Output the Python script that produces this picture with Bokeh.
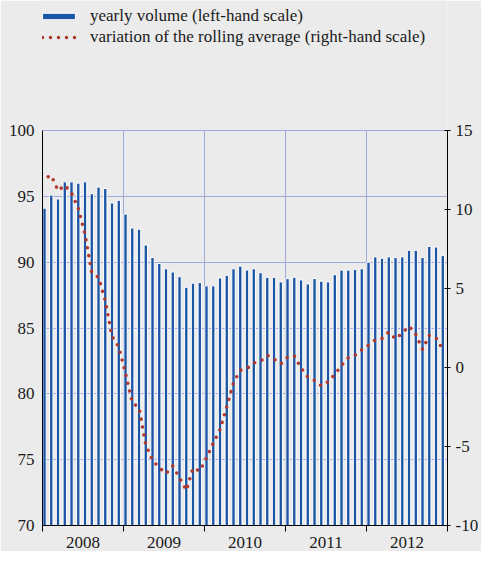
from bokeh.plotting import figure
from bokeh.models import Range1d, LinearAxis, FixedTicker, Legend, LegendItem
from bokeh.embed import file_html
from bokeh.resources import INLINE

# ---- data -------------------------------------------------------------
years = ["2008", "2009", "2010", "2011", "2012"]
months = list(range(60))  # Jan 2008 .. Dec 2012

volume = [
    94.1, 95.1, 94.8, 96.1, 96.1, 96.0, 96.1, 95.2, 95.7, 95.6, 94.5, 94.7,
    93.65, 92.6, 92.5, 91.3, 90.35, 89.9, 89.5, 89.25, 88.9, 88.1, 88.4, 88.45,
    88.2, 88.2, 88.8, 89.0, 89.5, 89.7, 89.4, 89.5, 89.2, 88.85, 88.85, 88.5,
    88.75, 88.85, 88.65, 88.35, 88.75, 88.55, 88.5, 89.05, 89.4, 89.4, 89.45, 89.5,
    90.0, 90.4, 90.3, 90.4, 90.35, 90.4, 90.9, 90.9, 90.35, 91.2, 91.15, 90.5,
]

variation = [
    11.97, 12.15, 11.19, 11.53, 11.04, 10.07, 8.43, 6.01, 5.70, 4.23, 1.97, 1.29,
    -0.36, -2.23, -2.54, -4.89, -5.88, -6.34, -6.71, -6.24, -6.98, -7.78, -6.37, -6.55,
    -5.71, -4.78, -3.93, -2.48, -0.97, -0.18, -0.06, 0.29, 0.39, 0.77, 0.53, 0.22,
    0.64, 0.74, -0.02, -0.61, -0.82, -1.16, -0.91, -0.45, 0.14, 0.62, 0.77, 1.12,
    1.41, 1.75, 1.84, 2.24, 1.81, 2.18, 2.61, 2.09, 1.14, 2.03, 1.88, 1.15,
]

left_ticks = [70, 75, 80, 85, 90, 95, 100]
right_ticks = [-10, -5, 0, 5, 10, 15]
right_tick_labels = ["-10", "-5", "0", "5", "10", "15"]

labels = ["yearly volume (left-hand scale)",
          "variation of the rolling average (right-hand scale)"]

# ---- styling / layout ---------------------------------------------------
FONT = "Liberation Serif"
BG = "#ebebeb"
GRID = "#9fa9dc"
BLUE = "#1b55a6"
RED = "#b0382c"
TXT = "#1a1a1a"

W, H = 481, 551
BORDER_BOTTOM = 26
HEADROOM = 130                      # px above the 100 / 15 line for the legend
PLOT_PX = H - BORDER_BOTTOM - HEADROOM
frac = HEADROOM / PLOT_PX

l_lo, l_hi = left_ticks[0], left_ticks[-1]
r_lo, r_hi = right_ticks[0], right_ticks[-1]

x_pos = [m + 0.3 for m in months]

p = figure(width=W, height=H, output_backend="svg", toolbar_location=None,
           x_range=Range1d(0, 60),
           y_range=Range1d(l_lo, l_hi + (l_hi - l_lo) * frac),
           min_border_left=42, min_border_right=33, min_border_top=0,
           min_border_bottom=BORDER_BOTTOM,
           background_fill_color=BG, border_fill_color=BG,
           outline_line_color=None)
p.extra_y_ranges = {"right": Range1d(r_lo, r_hi + (r_hi - r_lo) * frac)}

bars = p.vbar(x=x_pos, top=volume, bottom=l_lo, width=0.5,
              fill_color=BLUE, line_color="white", line_width=1)
line = p.line(x=x_pos, y=variation, y_range_name="right",
              line_color=RED, line_width=3.6, line_dash="0 8",
              line_dash_offset=4, line_cap="round")

# x axis: year labels centred, boundary ticks as minor ticks
xa = p.xaxis[0]
xa.ticker = FixedTicker(ticks=[6 + 12 * k for k in range(5)],
                        minor_ticks=[12 * k for k in range(6)])
xa.major_label_overrides = {6 + 12 * k: y for k, y in enumerate(years)}
xa.major_tick_in = 0
xa.major_tick_out = 0
xa.minor_tick_in = 0
xa.minor_tick_out = 6
xa.minor_tick_line_color = "black"
xa.axis_line_color = "black"
xa.major_label_standoff = 5
xa.major_label_text_font = FONT
xa.major_label_text_font_size = "17px"
xa.major_label_text_color = TXT

# left axis
ya = p.yaxis[0]
ya.ticker = FixedTicker(ticks=left_ticks)
ya.bounds = (l_lo, l_hi)
ya.major_tick_in = 0
ya.major_tick_out = 0
ya.minor_tick_line_color = None
ya.axis_line_color = "black"
ya.major_label_standoff = 8
ya.major_label_text_font = FONT
ya.major_label_text_font_size = "17px"
ya.major_label_text_color = TXT

# right axis
ra = LinearAxis(y_range_name="right", ticker=FixedTicker(ticks=right_ticks),
                bounds=(r_lo, r_hi))
ra.major_label_overrides = dict(zip(right_ticks, right_tick_labels))
ra.major_tick_in = 3
ra.major_tick_out = 3
ra.major_tick_line_color = "black"
ra.minor_tick_line_color = None
ra.axis_line_color = "black"
ra.major_label_standoff = 5
ra.major_label_text_font = FONT
ra.major_label_text_font_size = "17px"
ra.major_label_text_color = TXT
p.add_layout(ra, "right")

# grids
p.xgrid.ticker = FixedTicker(ticks=[12, 24, 36, 48])
p.xgrid.grid_line_color = GRID
p.xgrid.cross_bounds = (l_lo, l_hi)
p.ygrid.ticker = FixedTicker(ticks=left_ticks[1:])
p.ygrid.grid_line_color = GRID

# legend in the headroom
legend = Legend(items=[
    LegendItem(label=labels[0], renderers=[bars]),
    LegendItem(label=labels[1], renderers=[line]),
], location=(-4, PLOT_PX + HEADROOM - 47))
legend.background_fill_alpha = 0
legend.border_line_color = None
legend.label_text_font = FONT
legend.label_text_font_size = "17px"
legend.label_text_color = TXT
legend.glyph_width = 41
legend.glyph_height = 8
legend.label_height = 20
legend.label_standoff = 11
legend.padding = 0
legend.margin = 0
legend.spacing = 1
p.add_layout(legend, "center")

open("out.html", "w").write(file_html(p, INLINE))
